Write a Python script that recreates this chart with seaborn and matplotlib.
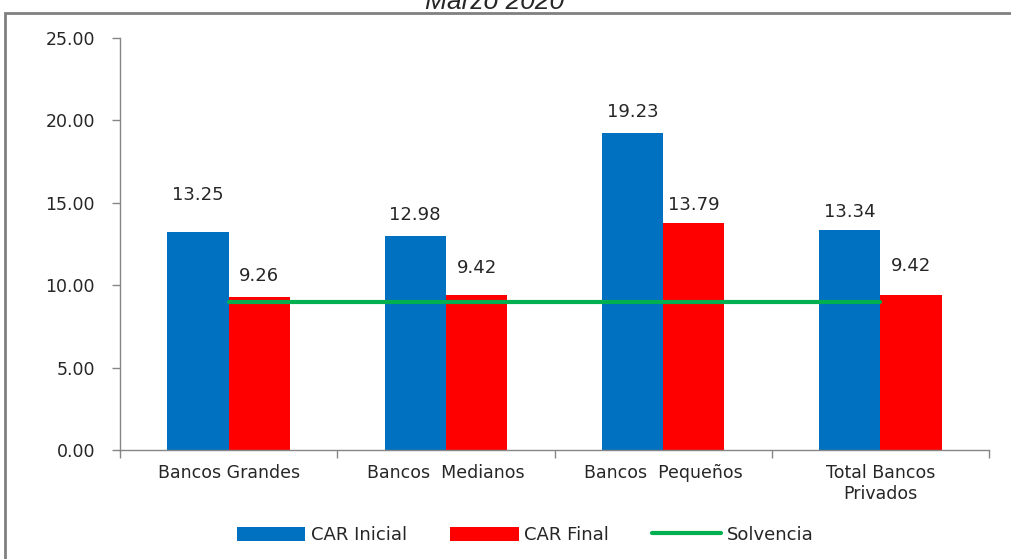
import matplotlib
matplotlib.use('Agg')
import matplotlib.pyplot as plt
from matplotlib.patches import Rectangle
import pandas as pd
import seaborn as sns

# datos del gráfico
categorias = ['Bancos Grandes', 'Bancos  Medianos', 'Bancos  Pequeños', 'Total Bancos\nPrivados']
car_inicial = [13.25, 12.98, 19.23, 13.34]
car_final = [9.26, 9.42, 13.79, 9.42]
solvencia = [9.0, 9.0, 9.0, 9.0]
titulo = 'Marzo 2020'

sns.set_theme(style='white')
plt.rcParams['font.family'] = ['DejaVu Sans']

df = pd.DataFrame({
    'Categoria': categorias * 2,
    'Valor': car_inicial + car_final,
    'Serie': ['CAR Inicial'] * 4 + ['CAR Final'] * 4,
})

fig = plt.figure(figsize=(10.11, 5.59), dpi=100)
ax = fig.add_axes([120 / 1011, 1 - 450 / 559, (989 - 120) / 1011, (450 - 38) / 559])

sns.barplot(data=df, x='Categoria', y='Valor', hue='Serie',
            palette={'CAR Inicial': '#0070C0', 'CAR Final': '#FF0000'},
            width=0.565, gap=0, saturation=1, linewidth=0, edgecolor='none',
            ax=ax, legend=True)
sns.lineplot(x=list(range(len(categorias))), y=solvencia, color='#00B050',
             linewidth=3, label='Solvencia', ax=ax, zorder=5)

# etiquetas de datos (desplazamiento en píxeles sobre la barra)
off_ini = [37, 21, 21, 18]
off_fin = [21, 27, 18, 29]
for cont, offs in zip(ax.containers, [off_ini, off_fin]):
    for bar, off in zip(cont, offs):
        ax.annotate(f'{bar.get_height():.2f}',
                    (bar.get_x() + bar.get_width() / 2, bar.get_height()),
                    xytext=(0, off), textcoords='offset pixels',
                    ha='center', va='center', fontsize=13, color='#262626')

ax.set_ylim(0, 25)
ax.set_yticks([0, 5, 10, 15, 20, 25])
ax.set_yticklabels([f'{v:.2f}' for v in [0, 5, 10, 15, 20, 25]])
ax.set_xlim(-0.5, len(categorias) - 0.5)
ax.set_xlabel('')
ax.set_ylabel('')
ax.set_xticks(range(len(categorias)))
ax.set_xticklabels(categorias, fontsize=12.5, color='#262626', linespacing=1.25)
ax.set_xticks([i - 0.5 for i in range(len(categorias) + 1)], minor=True)
ax.tick_params(axis='x', which='major', bottom=True, length=0, pad=10)
ax.tick_params(axis='x', which='minor', bottom=True, length=6, width=1,
               color='#868686', direction='out')
ax.tick_params(axis='y', left=True, length=6, width=1, color='#868686', direction='out',
               pad=12, labelsize=12.5, labelcolor='#262626')
for s in ['top', 'right']:
    ax.spines[s].set_visible(False)
for s in ['left', 'bottom']:
    ax.spines[s].set_color('#868686')
    ax.spines[s].set_linewidth(1)

handles, labels = ax.get_legend_handles_labels()
ax.legend(handles, labels, loc='center', bbox_to_anchor=(525 / 1011, 1 - 535 / 559),
          bbox_transform=fig.transFigure, ncol=3, frameon=False, fontsize=13,
          handlelength=3.8, handleheight=0.8, handletextpad=0.3, columnspacing=2.4)

# borde gris del área del gráfico
fig.patches.append(Rectangle((5 / 1011, -0.05), 1.05, 1 - 13 / 559 + 0.05,
                             transform=fig.transFigure, fill=False,
                             edgecolor='#808080', linewidth=2))

fig.text(495 / 1011, 1 - 9 / 559, titulo, ha='center', va='baseline',
         fontsize=19, style='italic', family=['Liberation Sans', 'DejaVu Sans'])

fig.savefig('out.png', dpi=100)
